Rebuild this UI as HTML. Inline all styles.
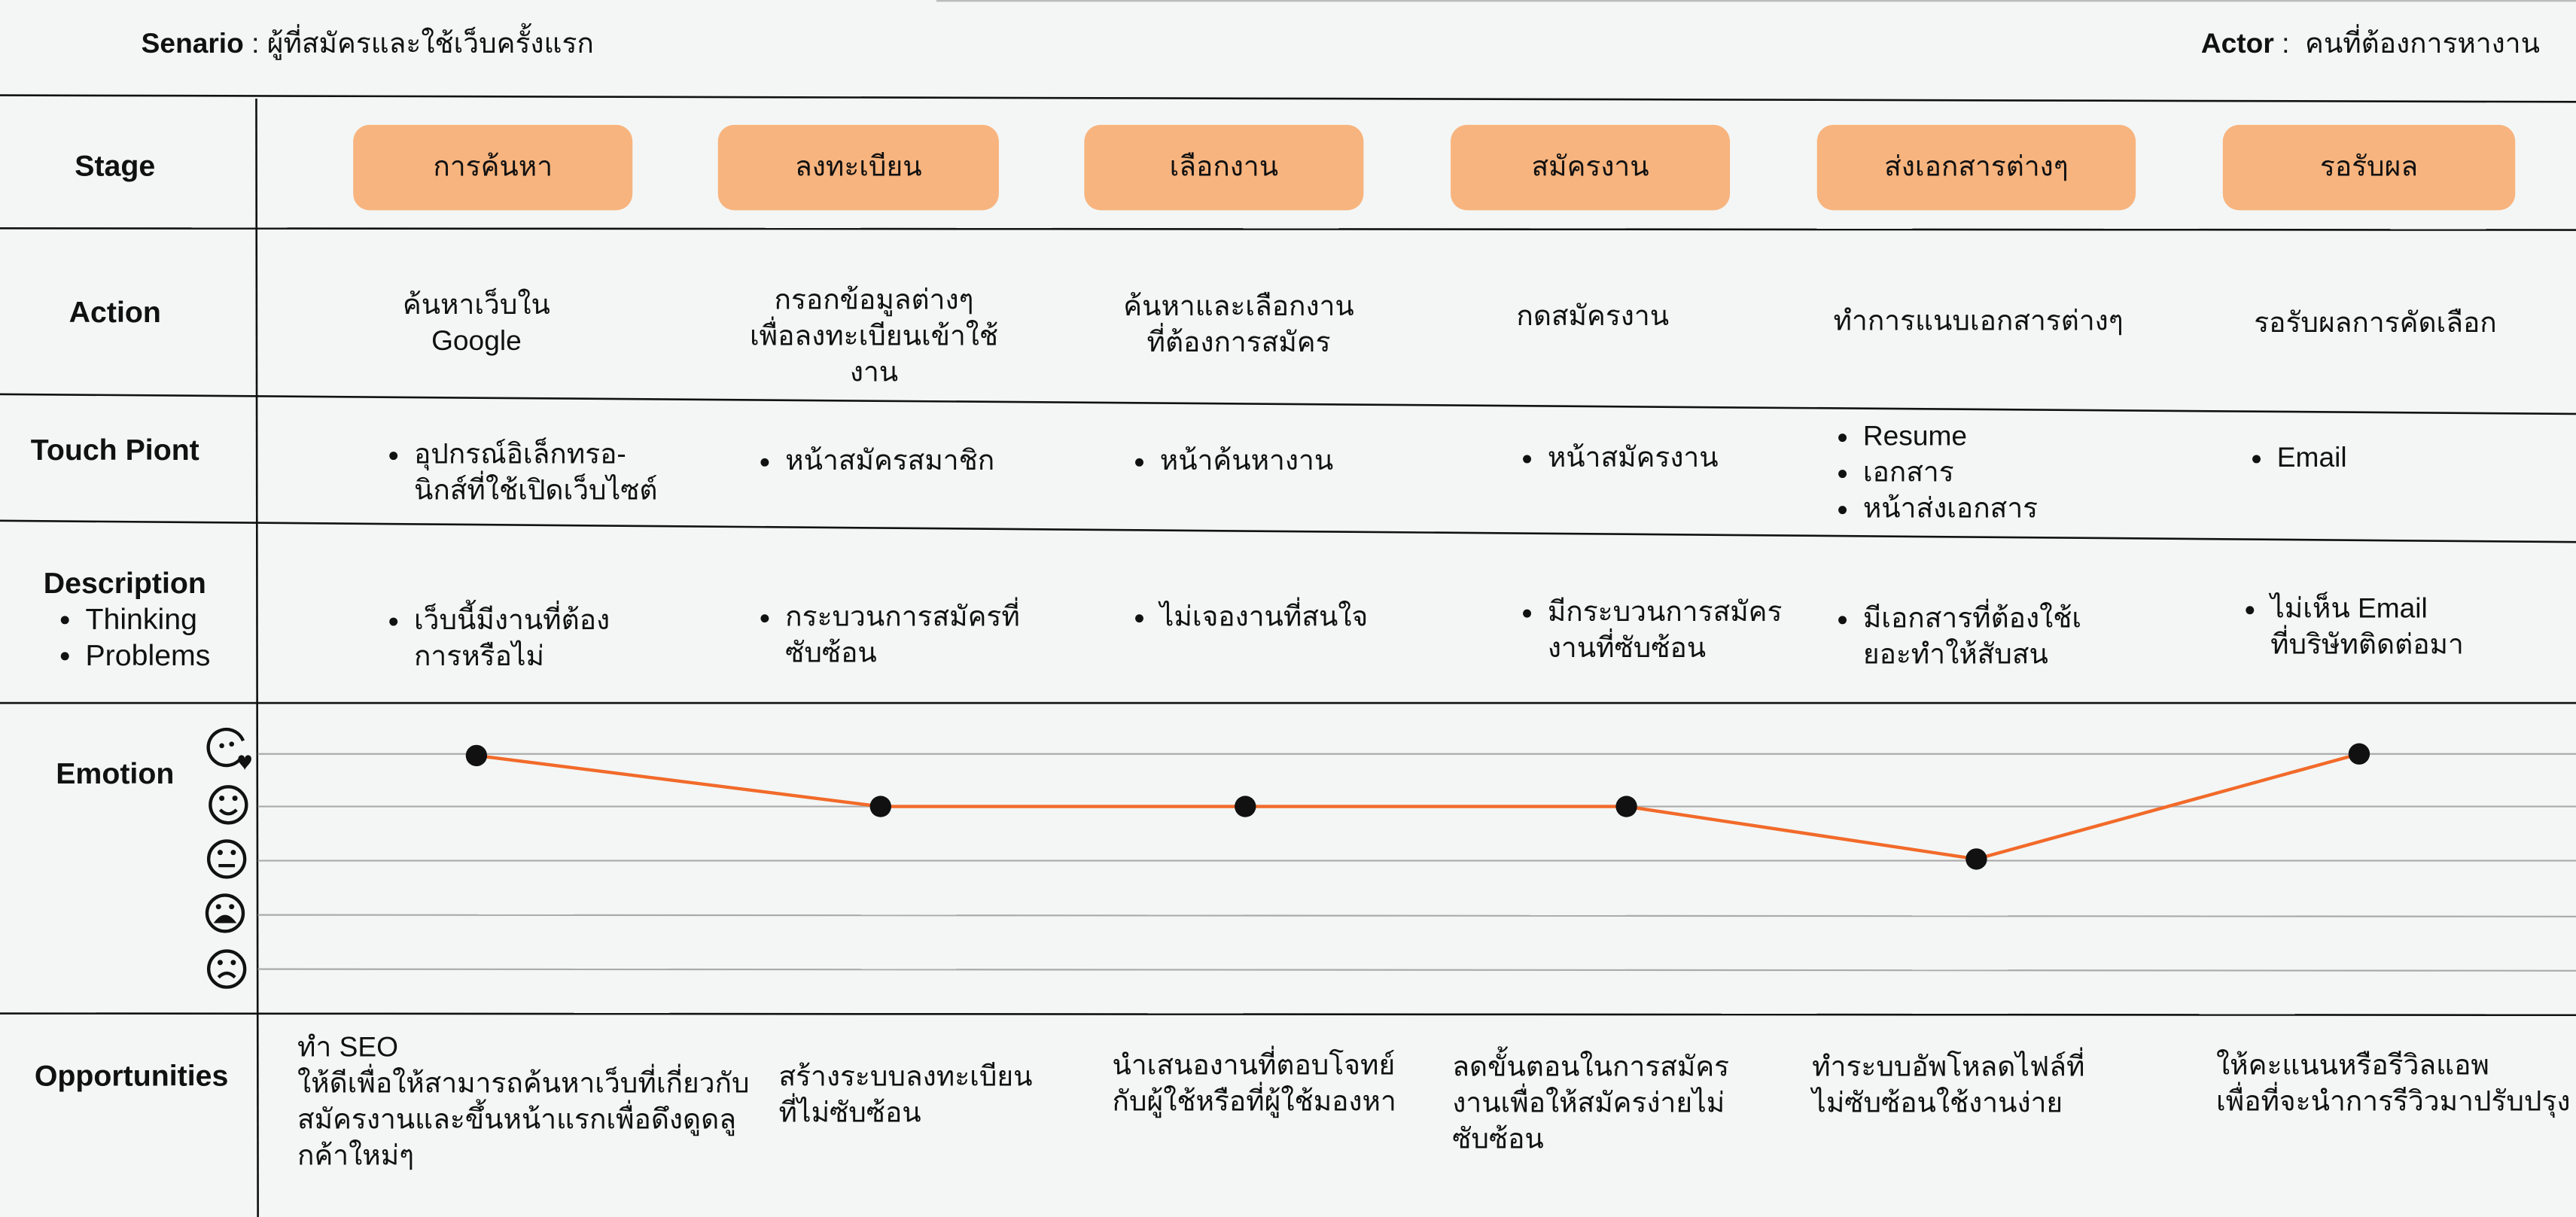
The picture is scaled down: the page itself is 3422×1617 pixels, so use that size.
<!DOCTYPE html>
<html><head><meta charset="utf-8"><style>
html,body{margin:0;padding:0;background:#f3f6f5;}
body{width:3422px;height:1617px;overflow:hidden;position:relative;}
#w{position:absolute;left:0;top:0;width:1568px;height:741px;transform:scale(2.18240);transform-origin:0 0;font-family:"Liberation Sans","Noto Sans CJK SC",sans-serif;color:#111;}
.t{position:absolute;font-size:17px;line-height:22px;white-space:nowrap;}
.c{text-align:center;transform:translateX(-50%);}
.b{font-weight:bold;font-size:18px;}
.st{position:absolute;top:76px;height:52px;background:#f8b47e;border-radius:10px;font-size:17px;line-height:52px;text-align:center;}
ul{margin:0;padding:0;list-style:none;}
li{position:relative;}
li:before{content:"";position:absolute;left:-15px;top:9px;width:5px;height:5px;border-radius:50%;background:#111;}
</style></head><body><div id="w">
<svg width="1568" height="741" style="position:absolute;left:0;top:0">
<g stroke="#111" stroke-width="1.2" fill="none">
<line x1="570" y1="0.5" x2="1568" y2="0.5" stroke="#bbb"/>
<line x1="0" y1="58" x2="1568" y2="62"/>
<line x1="0" y1="139" x2="1568" y2="140"/>
<line x1="0" y1="240" x2="1568" y2="252"/>
<line x1="0" y1="317" x2="1568" y2="330"/>
<line x1="0" y1="428" x2="1568" y2="428"/>
<line x1="0" y1="617" x2="1568" y2="618"/>
<line x1="156" y1="60" x2="157" y2="741"/>
</g>
<g stroke="#aaa" stroke-width="1">
<line x1="157" y1="459" x2="1568" y2="459"/>
<line x1="157" y1="491" x2="1568" y2="491"/>
<line x1="157" y1="524" x2="1568" y2="524"/>
<line x1="157" y1="557" x2="1568" y2="558"/>
<line x1="157" y1="590" x2="1568" y2="591"/>
</g>
<polyline points="290,460 536,491 758,491 990,491 1203,523 1436,459" stroke="#f26a2a" stroke-width="2" fill="none"/>
<g fill="#111">
<circle cx="290" cy="460" r="6.5"/><circle cx="536" cy="491" r="6.5"/><circle cx="758" cy="491" r="6.5"/><circle cx="990" cy="491" r="6.5"/><circle cx="1203" cy="523" r="6.5"/><circle cx="1436" cy="459" r="6.5"/>
</g>
<g stroke="#111" stroke-width="2" fill="none">
<path d="M147,461 A11,11 0 1 1 148,451"/>
<circle cx="139" cy="490" r="11"/><path d="M134,493 Q139,498 144,493"/>
<circle cx="138" cy="523" r="11"/><line x1="133" y1="527" x2="143" y2="527"/>
<circle cx="137" cy="556" r="11"/>
<circle cx="138" cy="590" r="11"/><path d="M133,595 Q138,590 143,595"/>
</g>
<g fill="#111">
<circle cx="135" cy="454" r="1.5"/><circle cx="141" cy="453" r="1.5"/>
<path d="M145,462 c0,-3 4,-3 4,0 c0,-3 4,-3 4,0 c0,3 -4,5 -4,7 c0,-2 -4,-4 -4,-7z"/>
<circle cx="135" cy="486" r="1.6"/><circle cx="143" cy="486" r="1.6"/>
<circle cx="134" cy="519" r="1.6"/><circle cx="142" cy="519" r="1.6"/>
<circle cx="133" cy="552" r="1.6"/><circle cx="141" cy="552" r="1.6"/>
<path d="M130,562 Q137,552 144,562z"/>
<circle cx="134" cy="586" r="1.6"/><circle cx="142" cy="586" r="1.6"/>
</g>
</svg>

<div class="t" style="left:86px;top:16px"><b>Senario</b> : ผู้ที่สมัครและใช้เว็บครั้งแรก</div>
<div class="t" style="right:22px;top:16px"><b>Actor</b> :&nbsp; คนที่ต้องการหางาน</div>

<div class="t b c" style="left:70px;top:90px">Stage</div>
<div class="t b c" style="left:70px;top:179px">Action</div>
<div class="t b c" style="left:70px;top:263px">Touch Piont</div>
<div class="t b c" style="left:76px;top:344px">Description</div>
<div class="t" style="left:52px;top:366px;font-size:18px"><ul><li>Thinking</li><li>Problems</li></ul></div>
<div class="t b c" style="left:70px;top:460px">Emotion</div>
<div class="t b c" style="left:80px;top:644px">Opportunities</div>

<div class="st" style="left:215px;width:170px">การค้นหา</div>
<div class="st" style="left:437px;width:171px">ลงทะเบียน</div>
<div class="st" style="left:660px;width:170px">เลือกงาน</div>
<div class="st" style="left:883px;width:170px">สมัครงาน</div>
<div class="st" style="left:1106px;width:194px">ส่งเอกสารต่างๆ</div>
<div class="st" style="left:1353px;width:178px">รอรับผล</div>

<div class="t c" style="left:290px;top:175px">ค้นหาเว็บใน<br>Google</div>
<div class="t c" style="left:532px;top:172px">กรอกข้อมูลต่างๆ<br>เพื่อลงทะเบียนเข้าใช้<br>งาน</div>
<div class="t c" style="left:754px;top:176px">ค้นหาและเลือกงาน<br>ที่ต้องการสมัคร</div>
<div class="t" style="left:923px;top:182px">กดสมัครงาน</div>
<div class="t" style="left:1116px;top:185px">ทำการแนบเอกสารต่างๆ</div>
<div class="t" style="left:1372px;top:186px">รอรับผลการคัดเลือก</div>

<div class="t" style="left:252px;top:266px"><ul><li>อุปกรณ์อิเล็กทรอ-<br>นิกส์ที่ใช้เปิดเว็บไซต์</li></ul></div>
<div class="t" style="left:478px;top:270px"><ul><li>หน้าสมัครสมาชิก</li></ul></div>
<div class="t" style="left:706px;top:270px"><ul><li>หน้าค้นหางาน</li></ul></div>
<div class="t" style="left:942px;top:268px"><ul><li>หน้าสมัครงาน</li></ul></div>
<div class="t" style="left:1134px;top:255px"><ul><li>Resume</li><li>เอกสาร</li><li>หน้าส่งเอกสาร</li></ul></div>
<div class="t" style="left:1386px;top:268px"><ul><li>Email</li></ul></div>

<div class="t" style="left:252px;top:367px"><ul><li>เว็บนี้มีงานที่ต้อง<br>การหรือไม่</li></ul></div>
<div class="t" style="left:478px;top:365px"><ul><li>กระบวนการสมัครที่<br>ซับซ้อน</li></ul></div>
<div class="t" style="left:706px;top:365px"><ul><li>ไม่เจองานที่สนใจ</li></ul></div>
<div class="t" style="left:942px;top:362px"><ul><li>มีกระบวนการสมัคร<br>งานที่ซับซ้อน</li></ul></div>
<div class="t" style="left:1134px;top:366px"><ul><li>มีเอกสารที่ต้องใช้เ<br>ยอะทำให้สับสน</li></ul></div>
<div class="t" style="left:1382px;top:360px"><ul><li>ไม่เห็น Email<br>ที่บริษัทติดต่อมา</li></ul></div>

<div class="t" style="left:181px;top:627px">ทำ SEO<br>ให้ดีเพื่อให้สามารถค้นหาเว็บที่เกี่ยวกับ<br>สมัครงานและขึ้นหน้าแรกเพื่อดึงดูดลู<br>กค้าใหม่ๆ</div>
<div class="t" style="left:474px;top:645px">สร้างระบบลงทะเบียน<br>ที่ไม่ซับซ้อน</div>
<div class="t" style="left:677px;top:638px">นำเสนองานที่ตอบโจทย์<br>กับผู้ใช้หรือที่ผู้ใช้มองหา</div>
<div class="t" style="left:884px;top:639px">ลดขั้นตอนในการสมัคร<br>งานเพื่อให้สมัครง่ายไม่<br>ซับซ้อน</div>
<div class="t" style="left:1103px;top:639px">ทำระบบอัพโหลดไฟล์ที่<br>ไม่ซับซ้อนใช้งานง่าย</div>
<div class="t" style="left:1349px;top:638px">ให้คะแนนหรือรีวิลแอพ<br>เพื่อที่จะนำการรีวิวมาปรับปรุง</div>
</div></body></html>
